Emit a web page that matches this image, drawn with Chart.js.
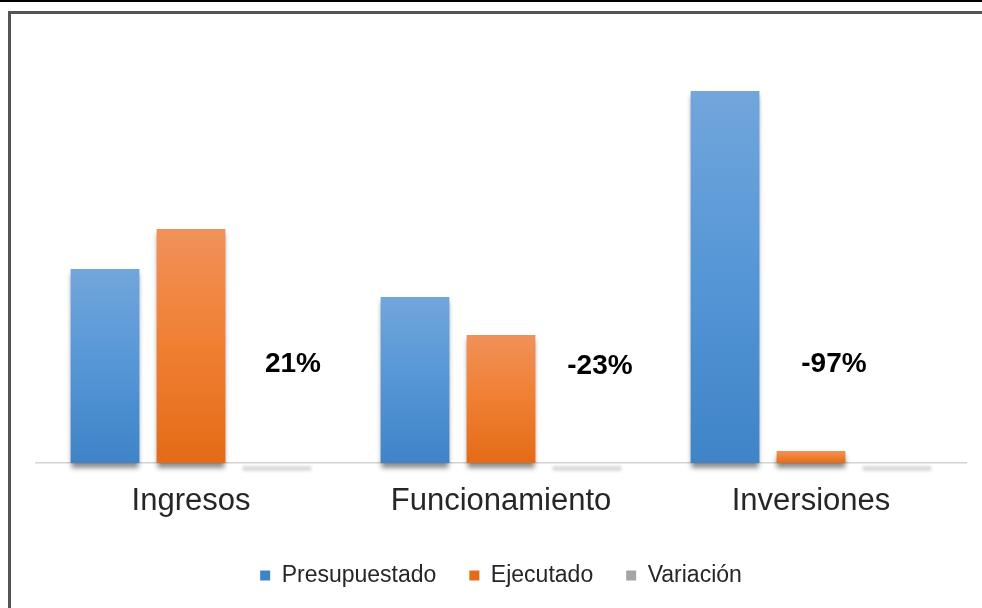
<!DOCTYPE html>
<html lang="es">
<head>
<meta charset="utf-8">
<title>Presupuestado vs Ejecutado</title>
<script src="https://cdn.jsdelivr.net/npm/chart.js@4.4.1/dist/chart.umd.min.js"></script>
<style>
  html, body { margin: 0; padding: 0; background: #fff; overflow: hidden; }
  #topline { position: absolute; left: 0; top: 0; width: 982px; height: 2px; background: #000; }
  #frame { position: absolute; left: 8px; top: 11px; width: 980px; height: 600px;
           border-left: 3px solid #555; border-top: 3px solid #555; }
  #wrap { position: absolute; left: 0; top: 0; width: 982px; height: 597px; }
</style>
</head>
<body>
<div id="topline"></div>
<div id="frame"></div>
<div id="wrap"><canvas id="chart"></canvas></div>
<script>
// Data
const categorias = ['Ingresos', 'Funcionamiento', 'Inversiones'];
const presupuestado = [1940, 1660, 3720];
const ejecutado = [2340, 1280, 120];
const variacion = [0.21, -0.23, -0.97];

Chart.defaults.font.family = '"Liberation Sans", Arial, sans-serif';

// vertical gradient per bar (light top -> dark bottom), like the Excel style
function barGradient(light, solid, dark) {
  return (c) => {
    if (c.type !== 'data') return solid;
    const chart = c.chart;
    const y = chart.scales.y;
    if (!chart.chartArea || !y) return solid;
    const top = y.getPixelForValue(c.raw);
    const base = y.getPixelForValue(0);
    if (!isFinite(top) || Math.abs(base - top) < 1) return solid;
    const g = chart.ctx.createLinearGradient(0, top, 0, base);
    g.addColorStop(0, light);
    g.addColorStop(0.5, solid);
    g.addColorStop(1, dark);
    return g;
  };
}

// -------------------------------------------------------------
// Drop shadow under the bars
// -------------------------------------------------------------
const sombraBarras = {
  id: 'sombraBarras',
  beforeDatasetsDraw(chart) {
    const ctx = chart.ctx;
    ctx.save();
    ctx.shadowColor = 'rgba(0,0,0,0.45)';
    ctx.shadowBlur = 5;
    ctx.shadowOffsetY = 5;
  },
  afterDatasetsDraw(chart) {
    chart.ctx.restore();
  }
};

// -------------------------------------------------------------
// Variación: faint shadow of the ~0 bar + percentage label
// -------------------------------------------------------------
const etiquetasVariacion = {
  id: 'etiquetasVariacion',
  afterDatasetsDraw(chart) {
    const ctx = chart.ctx;
    const meta = chart.getDatasetMeta(2);
    const base = chart.scales.y.getPixelForValue(0);
    const corrimiento = [16, 13, -63];
    const alto = [99, 97, 99];
    ctx.save();
    meta.data.forEach((bar, i) => {
      ctx.filter = 'blur(1.5px)';
      ctx.fillStyle = '#dadada';
      ctx.fillRect(bar.x - bar.width / 2, base + 3, bar.width, 5);
      ctx.filter = 'none';
      ctx.fillStyle = '#000';
      ctx.font = 'bold 28px "Liberation Sans", Arial, sans-serif';
      ctx.textAlign = 'center';
      ctx.textBaseline = 'middle';
      ctx.fillText(Math.round(variacion[i] * 100) + '%', bar.x + corrimiento[i], base - alto[i]);
    });
    ctx.restore();
  }
};

new Chart(document.getElementById('chart'), {
  type: 'bar',
  data: {
    labels: categorias,
    datasets: [
      {
        label: 'Presupuestado',
        data: presupuestado,
        backgroundColor: barGradient('#72a6dc', '#5596d6', '#3e84c7'),
        clip: false
      },
      {
        label: 'Ejecutado',
        data: ejecutado,
        backgroundColor: barGradient('#f19159', '#f07f32', '#e46b17'),
        clip: false
      },
      {
        label: 'Variación',
        data: variacion,
        backgroundColor: '#a5a5a5',
        clip: false
      }
    ]
  },
  options: {
    responsive: true,
    maintainAspectRatio: false,
    animation: false,
    categoryPercentage: 0.832,
    barPercentage: 0.8,
    layout: { padding: { top: 63, left: 36, right: 16, bottom: 0 } },
    scales: {
      x: {
        grid: { display: false, drawTicks: false },
        border: { display: true, color: '#d4d4d4', width: 1.5 },
        ticks: { color: '#262626', padding: 20, font: { size: 31 } },
        afterFit: (scale) => { scale.height = 68; }
      },
      y: { display: false, min: 0, max: 4000 }
    },
    plugins: {
      legend: {
        position: 'bottom',
        labels: { boxWidth: 10, boxHeight: 10, padding: 33, color: '#262626', font: { size: 23 } }
      },
      tooltip: { enabled: false }
    }
  },
  plugins: [sombraBarras, etiquetasVariacion]
});
</script>
</body>
</html>
